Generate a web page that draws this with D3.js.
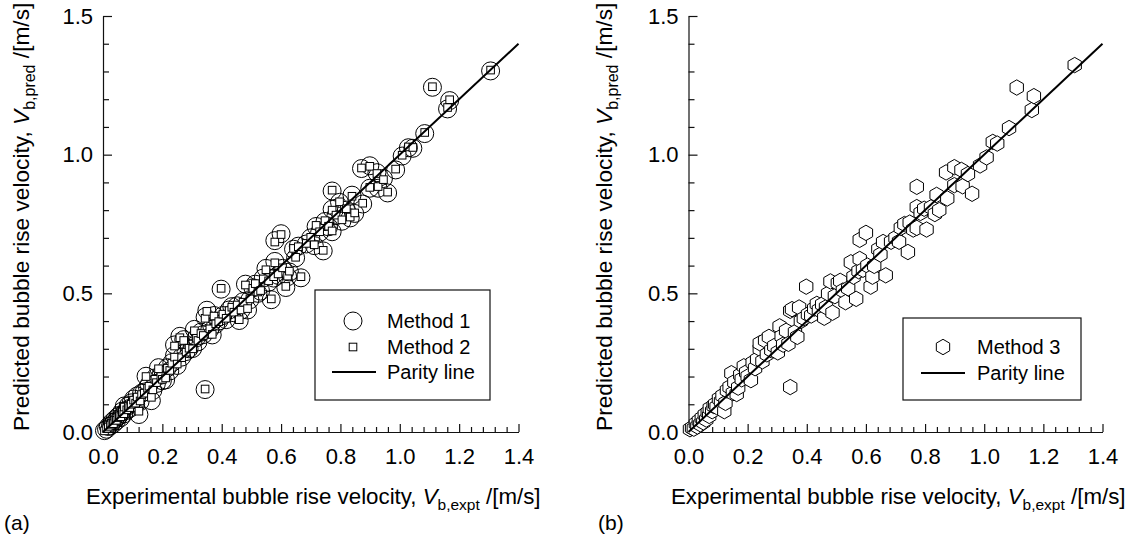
<!DOCTYPE html>
<html>
<head>
<meta charset="utf-8">
<script src="https://cdn.jsdelivr.net/npm/d3@7"></script>
<style>
  html, body { margin: 0; padding: 0; background: #fff; }
  svg text { font-family: "Liberation Sans", Arial, sans-serif; fill: #000; }
</style>
</head>
<body>
<svg id="chart" width="1125" height="542"></svg>
<script>
// ---- data ----
const expt = [0.005,0.012,0.018,0.025,0.030,0.035,0.040,0.045,0.050,0.055,0.060,0.065,0.070,0.072,0.080,0.085,0.090,0.095,0.103,0.110,
  0.115,0.121,0.125,0.130,0.139,0.145,0.150,0.155,0.163,0.168,0.175,0.180,0.187,0.195,0.200,0.211,0.217,0.225,0.232,0.241,
  0.241,0.250,0.259,0.265,0.272,0.280,0.290,0.302,0.308,0.315,0.320,0.330,0.338,0.344,0.344,0.350,0.360,0.368,0.374,0.380,
  0.390,0.398,0.404,0.415,0.425,0.434,0.441,0.452,0.459,0.465,0.472,0.480,0.487,0.495,0.505,0.513,0.522,0.531,0.540,0.549,
  0.558,0.567,0.575,0.579,0.579,0.590,0.600,0.605,0.616,0.622,0.628,0.642,0.649,0.658,0.667,0.685,0.700,0.712,0.718,0.730,
  0.742,0.748,0.760,0.772,0.772,0.772,0.785,0.797,0.805,0.820,0.833,0.839,0.848,0.875,0.871,0.899,0.899,0.923,0.927,0.945,
  0.959,0.986,1.008,1.029,1.044,1.084,1.110,1.161,1.168,1.306];
const method1 = [0.005,0.010,0.020,0.022,0.035,0.030,0.045,0.040,0.055,0.060,0.052,0.075,0.065,0.094,0.078,0.095,0.085,0.105,0.119,0.100,
  0.130,0.063,0.110,0.140,0.144,0.201,0.160,0.170,0.113,0.150,0.195,0.175,0.232,0.205,0.185,0.188,0.232,0.220,0.250,0.276,
  0.314,0.240,0.345,0.270,0.333,0.290,0.300,0.301,0.370,0.340,0.325,0.360,0.351,0.153,0.414,0.439,0.370,0.350,0.420,0.389,
  0.400,0.515,0.420,0.405,0.440,0.452,0.430,0.455,0.402,0.439,0.470,0.533,0.440,0.477,0.520,0.533,0.500,0.508,0.555,0.590,
  0.540,0.477,0.555,0.615,0.690,0.565,0.715,0.590,0.521,0.560,0.577,0.659,0.628,0.670,0.556,0.678,0.700,0.672,0.741,0.720,
  0.653,0.759,0.740,0.869,0.803,0.722,0.780,0.828,0.760,0.800,0.772,0.854,0.788,0.822,0.950,0.879,0.960,0.935,0.879,0.914,
  0.862,0.945,0.995,1.025,1.023,1.076,1.243,1.165,1.195,1.302];
const method2 = [0.004,0.012,0.018,0.025,0.032,0.030,0.043,0.042,0.052,0.058,0.055,0.072,0.066,0.090,0.080,0.092,0.088,0.100,0.115,0.104,
  0.126,0.075,0.112,0.135,0.140,0.200,0.158,0.165,0.125,0.152,0.190,0.178,0.228,0.200,0.190,0.195,0.230,0.222,0.248,0.270,
  0.310,0.245,0.340,0.268,0.330,0.288,0.302,0.300,0.365,0.338,0.330,0.355,0.348,0.155,0.410,0.435,0.372,0.352,0.418,0.390,
  0.398,0.518,0.425,0.410,0.438,0.450,0.432,0.458,0.405,0.440,0.468,0.530,0.445,0.480,0.518,0.535,0.505,0.510,0.552,0.585,
  0.545,0.480,0.560,0.610,0.685,0.570,0.712,0.592,0.525,0.562,0.580,0.662,0.630,0.668,0.560,0.680,0.702,0.675,0.745,0.722,
  0.655,0.762,0.742,0.872,0.800,0.725,0.782,0.830,0.765,0.805,0.775,0.850,0.790,0.825,0.952,0.882,0.958,0.932,0.885,0.910,
  0.865,0.948,0.998,1.028,1.026,1.080,1.245,1.170,1.198,1.305];
const method3 = [0.010,0.015,0.012,0.030,0.020,0.040,0.028,0.050,0.035,0.062,0.045,0.070,0.058,0.085,0.075,0.094,0.100,0.090,0.120,0.110,
  0.131,0.075,0.105,0.150,0.162,0.212,0.140,0.180,0.137,0.160,0.206,0.190,0.237,0.215,0.200,0.187,0.250,0.230,0.262,0.300,
  0.320,0.255,0.330,0.280,0.343,0.295,0.310,0.287,0.381,0.345,0.315,0.365,0.318,0.162,0.437,0.443,0.360,0.343,0.449,0.400,
  0.410,0.524,0.424,0.420,0.445,0.462,0.440,0.460,0.412,0.450,0.499,0.543,0.430,0.490,0.537,0.545,0.510,0.468,0.518,0.612,
  0.560,0.480,0.580,0.624,0.693,0.585,0.718,0.600,0.524,0.560,0.599,0.659,0.640,0.685,0.565,0.686,0.700,0.686,0.736,0.750,
  0.649,0.755,0.730,0.884,0.811,0.736,0.790,0.805,0.730,0.810,0.786,0.855,0.800,0.842,0.936,0.890,0.955,0.945,0.886,0.930,
  0.859,0.961,0.990,1.046,1.040,1.096,1.242,1.161,1.211,1.323];
const parity = [0, 1.4];
const xTickValues = [0, 0.2, 0.4, 0.6, 0.8, 1.0, 1.2, 1.4];
const yTickValues = [0, 0.5, 1.0, 1.5];
const xTitleMain = "Experimental bubble rise velocity,  ";
const xTitleSub = "b,expt";
const yTitleMain = "Predicted bubble rise velocity,  ";
const yTitleSub = "b,pred";
const unitText = " /[m/s]";

const svg = d3.select("#chart");
const FONT = '"Liberation Sans", Arial, sans-serif';

function hexPath(R) {
  const pts = d3.range(6).map(i => {
    const a = Math.PI / 2 + i * Math.PI / 3;
    return [R * Math.cos(a), R * Math.sin(a)];
  });
  return "M" + pts.map(p => p[0].toFixed(2) + "," + p[1].toFixed(2)).join("L") + "Z";
}

function drawPanel(opt) {
  const g = svg.append("g");
  const x = d3.scaleLinear().domain([0, 1.4]).range([opt.x0, opt.x1]);
  const y = d3.scaleLinear().domain([0, 1.5]).range([432, 16]);

  const xMinor = d3.range(0, 1.4001, 0.04).filter(v => !xTickValues.some(t => Math.abs(t - v) < 1e-6));
  const yMinor = d3.range(0, 1.5001, 0.1).filter(v => !yTickValues.some(t => Math.abs(t - v) < 1e-6));

  const gx = g.append("g").attr("transform", `translate(0,${y(0)})`)
    .call(d3.axisBottom(x).tickValues(xMinor).tickSize(-5).tickFormat(""));
  gx.select(".domain").remove();
  const gx2 = g.append("g").attr("transform", `translate(0,${y(0)})`)
    .call(d3.axisBottom(x).tickValues(xTickValues).tickSizeInner(-8).tickSizeOuter(0).tickPadding(16).tickFormat(d3.format(".1f")));
  gx2.selectAll("text").attr("font-size", 22).style("font-family", FONT);

  const gy = g.append("g").attr("transform", `translate(${x(0)},0)`)
    .call(d3.axisLeft(y).tickValues(yMinor).tickSize(-6).tickFormat(""));
  gy.select(".domain").remove();
  const gy2 = g.append("g").attr("transform", `translate(${x(0)},0)`)
    .call(d3.axisLeft(y).tickValues(yTickValues).tickSizeInner(-9).tickSizeOuter(0).tickPadding(10).tickFormat(d3.format(".1f")));
  gy2.selectAll("text").attr("font-size", 22).style("font-family", FONT);

  g.selectAll(".domain, .tick line").attr("stroke", "#111").attr("stroke-width", 1.2);

  const pts = expt.map((v, i) => ({ x: v, y1: method1[i], y2: method2[i], y3: method3[i] }));
  if (opt.panel === "a") {
    g.append("g").selectAll("circle").data(pts).join("circle")
      .attr("cx", d => x(d.x)).attr("cy", d => y(d.y1)).attr("r", 9)
      .attr("fill", "none").attr("stroke", "#000").attr("stroke-width", 1);
    g.append("g").selectAll("rect").data(pts).join("rect")
      .attr("x", d => x(d.x) - 3.8).attr("y", d => y(d.y2) - 3.8)
      .attr("width", 7.6).attr("height", 7.6)
      .attr("fill", "#fff").attr("stroke", "#000").attr("stroke-width", 1);
  } else {
    g.append("g").selectAll("path").data(pts).join("path")
      .attr("d", hexPath(7.7))
      .attr("transform", d => `translate(${x(d.x)},${y(d.y3)})`)
      .attr("fill", "#fff").attr("stroke", "#000").attr("stroke-width", 1);
  }

  g.append("line")
    .attr("x1", x(parity[0])).attr("y1", y(parity[0]))
    .attr("x2", x(parity[1])).attr("y2", y(parity[1]))
    .attr("stroke", "#000").attr("stroke-width", 2);

  const xt = g.append("text").attr("x", opt.xTitleX).attr("y", 504).attr("font-size", 22.3);
  xt.append("tspan").text(xTitleMain);
  xt.append("tspan").attr("font-style", "italic").text("V");
  xt.append("tspan").attr("font-size", 15.5).attr("dy", 6).text(xTitleSub);
  xt.append("tspan").attr("dy", -6).text(unitText);

  const yt = g.append("text")
    .attr("transform", `translate(${opt.yTitleX},431) rotate(-90)`)
    .attr("font-size", 22.7);
  yt.append("tspan").text(yTitleMain);
  yt.append("tspan").attr("font-style", "italic").text("V");
  yt.append("tspan").attr("font-size", 16).attr("dy", 6).text(yTitleSub);
  yt.append("tspan").attr("dy", -6).text(unitText);

  g.append("text").attr("x", opt.labelX).attr("y", 530).attr("font-size", 21).text(opt.label);

  const L = opt.legend;
  g.append("rect").attr("x", L.x).attr("y", L.y).attr("width", L.w).attr("height", L.h)
    .attr("fill", "#fff").attr("stroke", "#111").attr("stroke-width", 1.2);
  L.items.forEach(it => {
    if (it.type === "circle") {
      g.append("circle").attr("cx", L.mx).attr("cy", it.cy).attr("r", 9)
        .attr("fill", "none").attr("stroke", "#000").attr("stroke-width", 1);
    } else if (it.type === "square") {
      g.append("rect").attr("x", L.mx - 3.8).attr("y", it.cy - 3.8).attr("width", 7.6).attr("height", 7.6)
        .attr("fill", "#fff").attr("stroke", "#000").attr("stroke-width", 1);
    } else if (it.type === "hex") {
      g.append("path").attr("d", hexPath(7.7)).attr("transform", `translate(${L.mx},${it.cy})`)
        .attr("fill", "#fff").attr("stroke", "#000").attr("stroke-width", 1);
    } else {
      g.append("line").attr("x1", L.lx0).attr("x2", L.lx1).attr("y1", it.cy).attr("y2", it.cy)
        .attr("stroke", "#000").attr("stroke-width", 2);
    }
    g.append("text").attr("x", L.tx).attr("y", it.cy).attr("dy", "0.35em")
      .attr("font-size", 20).text(it.label);
  });
}

drawPanel({
  panel: "a", x0: 103, x1: 518.5, xTitleX: 86, yTitleX: 29, labelX: 4, label: "(a)",
  legend: { x: 315, y: 290, w: 175, h: 110, mx: 353, lx0: 332, lx1: 376, tx: 387,
    items: [ { type: "circle", cy: 321, label: "Method 1" },
             { type: "square", cy: 347, label: "Method 2" },
             { type: "line", cy: 372, label: "Parity line" } ] }
});
drawPanel({
  panel: "b", x0: 688.5, x1: 1102.5, xTitleX: 671, yTitleX: 612, labelX: 598, label: "(b)",
  legend: { x: 903, y: 318, w: 178, h: 82, mx: 943, lx0: 921, lx1: 965, tx: 977,
    items: [ { type: "hex", cy: 347, label: "Method 3" },
             { type: "line", cy: 373, label: "Parity line" } ] }
});
</script>
</body>
</html>
